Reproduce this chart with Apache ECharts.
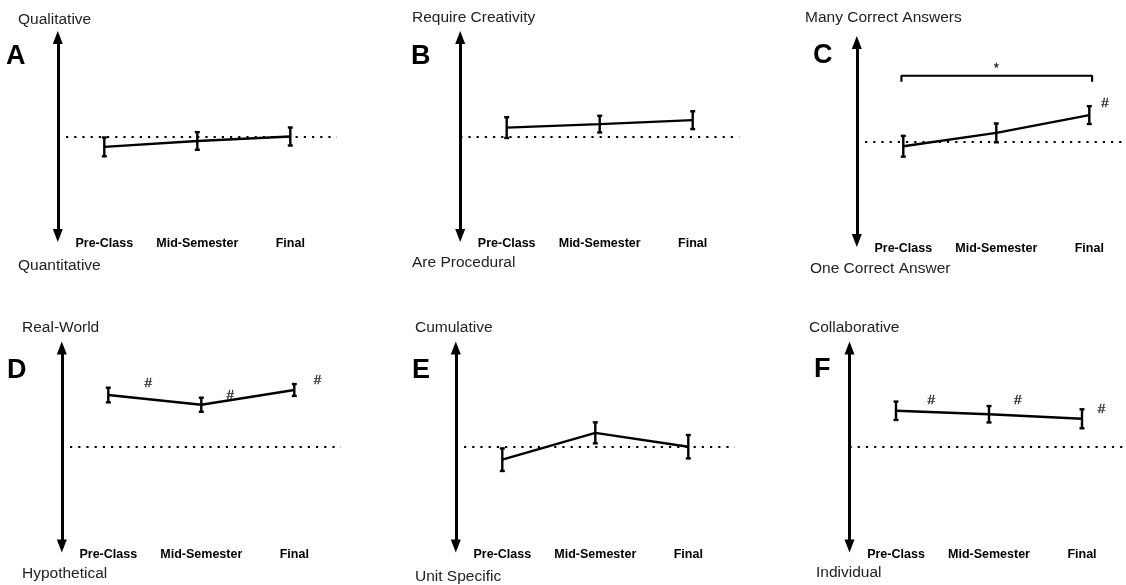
<!DOCTYPE html>
<html>
<head>
<meta charset="utf-8">
<script src="https://cdn.jsdelivr.net/npm/echarts@6/dist/echarts.min.js"></script>
<style>html,body{margin:0;padding:0;background:#fff}#c{width:1126px;height:585px}</style>
</head>
<body>
<div id="c"></div>
<script>
// ---- data ----
const categories = ['Pre-Class', 'Mid-Semester', 'Final'];
const panelLetters = ['A', 'B', 'C', 'D', 'E', 'F'];
const topLabels = ['Qualitative', 'Require Creativity', 'Many Correct Answers', 'Real-World', 'Cumulative', 'Collaborative'];
const bottomLabels = ['Quantitative', 'Are Procedural', 'One Correct Answer', 'Hypothetical', 'Unit Specific', 'Individual'];

const meanA = [-1.05, -0.45, 0.0];
const errA  = [0.95, 0.89, 0.91];
const meanB = [0.9, 1.25, 1.65];
const errB  = [1.05, 0.84, 0.9];
const meanC = [-0.48, 0.87, 2.67];
const errC  = [1.05, 0.95, 0.9];
const meanD = [5.25, 4.27, 5.76];
const errD  = [0.74, 0.71, 0.6];
const meanE = [-1.28, 1.43, 0.03];
const errE  = [1.14, 1.06, 1.18];
const meanF = [3.66, 3.31, 2.85];
const errF  = [0.93, 0.83, 0.96];

// significance marks: [x position (category index units), y value, text]
const marksA = [];
const marksB = [];
const marksC = [[2.17, 3.9, '#'], [1.0, 7.4, '*']];
const marksD = [[0.43, 6.43, '#'], [1.31, 5.25, '#'], [2.25, 6.77, '#']];
const marksE = [];
const marksF = [[0.38, 4.75, '#'], [1.31, 4.75, '#'], [2.21, 3.84, '#']];
// comparison bracket in C (Pre-Class vs Final)
const bracketC = [[-0.02, 6.03], [-0.02, 6.64], [2.03, 6.64], [2.03, 6.03]];

const yMin = -10, yMax = 10;

// ---- layout ----
const FONT = '"Liberation Sans", Arial, sans-serif';
const panels = [
  {mean: meanA, err: errA, marks: marksA, left: 57.8, top: 37.5, letter: [6, 57], tl: [18, 20], bl: [18, 266]},
  {mean: meanB, err: errB, marks: marksB, left: 460.2, top: 37.5, letter: [411, 57], tl: [412, 18], bl: [412, 263]},
  {mean: meanC, err: errC, marks: marksC, left: 856.8, top: 42.5, letter: [813, 56], tl: [805, 18], bl: [810, 269], bracket: bracketC},
  {mean: meanD, err: errD, marks: marksD, left: 61.8, top: 348, letter: [7, 371], tl: [22, 328], bl: [22, 574]},
  {mean: meanE, err: errE, marks: marksE, left: 455.8, top: 348, letter: [412, 371], tl: [415, 328], bl: [415, 577]},
  {mean: meanF, err: errF, marks: marksF, left: 849.5, top: 348, letter: [814, 370], tl: [809, 328], bl: [816, 573]}
];
const GW = 279, GH = 198;

const grid = [], xAxis = [], yAxis = [], series = [], graphic = [];

panels.forEach((p, i) => {
  grid.push({left: p.left, top: p.top, width: GW, height: GH, containLabel: false, outerBoundsMode: 'none'});
  // category axis (index 2i)
  xAxis.push({
    type: 'category', gridIndex: i, data: categories, boundaryGap: true,
    axisLine: {show: false, onZero: false}, axisTick: {show: false}, splitLine: {show: false},
    axisLabel: {color: '#000', fontWeight: 'bold', fontSize: 12.5, fontFamily: FONT, margin: 2, interval: 0}
  });
  // hidden value axis for annotations (index 2i+1)
  xAxis.push({
    type: 'value', gridIndex: i, min: -0.5, max: 2.5, show: false,
    axisLine: {onZero: false}, splitLine: {show: false}
  });
  yAxis.push({
    type: 'value', gridIndex: i, min: yMin, max: yMax,
    axisLine: {show: true, onZero: false, symbol: ['triangle', 'triangle'], symbolSize: [10, 13],
      lineStyle: {color: '#000', width: 3}},
    axisTick: {show: false}, axisLabel: {show: false}, splitLine: {show: false}
  });

  // mean line with neutral dotted reference
  series.push({
    type: 'line', xAxisIndex: 2 * i, yAxisIndex: i, data: p.mean,
    symbol: 'none', lineStyle: {color: '#000', width: 2.4}, z: 5, silent: true,
    markLine: {
      silent: true, symbol: ['none', 'none'], label: {show: false},
      lineStyle: {color: '#000', width: 2.2, type: [2.2, 6]},
      data: [{yAxis: 0}], z: 2
    }
  });
  // error bars
  series.push({
    type: 'custom', xAxisIndex: 2 * i, yAxisIndex: i, z: 6, silent: true,
    data: p.mean.map((m, k) => [k, m - p.err[k], m + p.err[k]]),
    encode: {x: 0, y: [1, 2]},
    renderItem: (params, api) => {
      const x = api.value(0);
      const t = api.coord([x, api.value(2)]);
      const b = api.coord([x, api.value(1)]);
      const w = 2.5;
      const st = {stroke: '#000', lineWidth: 2.4};
      return {type: 'group', children: [
        {type: 'line', shape: {x1: t[0], y1: t[1], x2: b[0], y2: b[1]}, style: st},
        {type: 'line', shape: {x1: t[0] - w, y1: t[1], x2: t[0] + w, y2: t[1]}, style: st},
        {type: 'line', shape: {x1: b[0] - w, y1: b[1], x2: b[0] + w, y2: b[1]}, style: st}
      ]};
    }
  });
  if (p.marks.length) {
    series.push({
      type: 'scatter', xAxisIndex: 2 * i + 1, yAxisIndex: i, symbolSize: 0, silent: true, z: 7,
      data: p.marks.map(m => ({value: [m[0], m[1]], label: {formatter: m[2], fontSize: m[2] === '*' ? 12 : 13.5}})),
      label: {show: true, position: 'inside', color: '#000', fontFamily: FONT, textBorderColor: '#000', textBorderWidth: 0.4}
    });
  }
  if (p.bracket) {
    series.push({
      type: 'line', xAxisIndex: 2 * i + 1, yAxisIndex: i, data: p.bracket, symbol: 'none', silent: true,
      lineStyle: {color: '#000', width: 2.2}, z: 5
    });
  }

  graphic.push({type: 'text', x: p.letter[0], y: p.letter[1], silent: true,
    style: {text: panelLetters[i], fill: '#000', font: 'bold 27px ' + FONT, verticalAlign: 'middle', align: 'left'}});
  graphic.push({type: 'text', x: p.tl[0], y: p.tl[1], silent: true,
    style: {text: topLabels[i], fill: '#222', font: '15.5px ' + FONT, verticalAlign: 'middle', align: 'left'}});
  graphic.push({type: 'text', x: p.bl[0], y: p.bl[1], silent: true,
    style: {text: bottomLabels[i], fill: '#222', font: '15.5px ' + FONT, verticalAlign: 'middle', align: 'left'}});
});

const chart = echarts.init(document.getElementById('c'), null, {renderer: 'canvas'});
chart.setOption({
  animation: false,
  backgroundColor: '#fff',
  grid, xAxis, yAxis, series, graphic
});
</script>
</body>
</html>
